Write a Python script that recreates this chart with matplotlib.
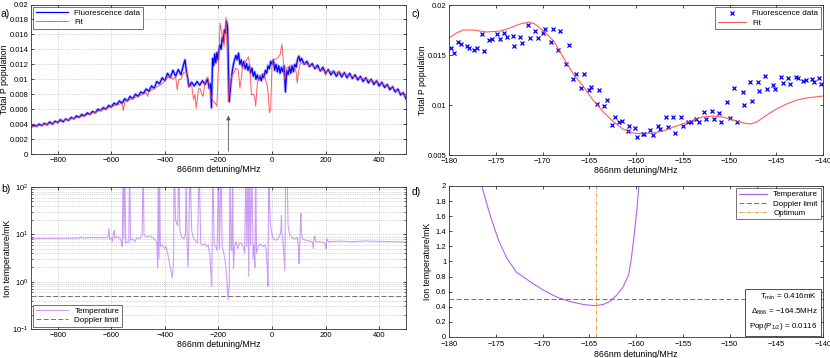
import numpy as np
import matplotlib
matplotlib.use('Agg')
import matplotlib.pyplot as plt

plt.rcParams['font.family'] = ['Liberation Sans', 'DejaVu Sans']
plt.rcParams['mathtext.fontset'] = 'custom'
plt.rcParams['mathtext.rm'] = 'Liberation Sans'

# --------------------------
# data: panel a (full scan)
# --------------------------
scan_x = [-900, -890, -880, -870, -860, -850, -840, -830, -820, -810, -800, -790, -780, -770, -760,
          -750, -740, -730, -720, -710, -700, -690, -680, -670, -660, -650, -640, -630, -620, -610,
          -600, -590, -580, -570, -560, -550, -540, -530, -520, -510, -500, -490, -480, -470, -460,
          -450, -440, -430, -420, -410, -400, -390, -380, -370, -360, -350, -340, -330, -325, -320,
          -315, -310, -300, -290, -280, -270, -260, -250, -240, -235, -230, -226, -222, -218, -214,
          -210, -206, -202, -198, -194, -190, -186, -182, -178, -174, -170, -166, -163, -160, -156,
          -152, -148, -144, -140, -135, -130, -125, -120, -115, -110, -105, -100, -95, -90, -85,
          -80, -75, -70, -65, -60, -55, -50, -45, -40, -35, -30, -25, -20, -15, -10,
          -5, 0, 5, 10, 15, 20, 25, 30, 35, 40, 45, 50, 55, 60, 65,
          70, 75, 80, 85, 90, 95, 100, 105, 110, 120, 130, 140, 150, 160, 170,
          180, 190, 200, 210, 220, 230, 240, 250, 260, 270, 280, 290, 300, 310, 320,
          330, 340, 350, 360, 370, 380, 390, 400, 410, 420, 430, 440, 450, 460, 470,
          480, 490, 500]
scan_data = [.0036, .0039, .0037, .0040, .0038, .0041, .0039, .0043, .0040, .0044, .0042, .0046, .0043, .0047, .0045,
             .0049, .0047, .0051, .0049, .0053, .0051, .0055, .0053, .0057, .0055, .0060, .0058, .0062, .0060, .0065,
             .0063, .0068, .0066, .0071, .0068, .0074, .0071, .0077, .0074, .0080, .0077, .0083, .0081, .0087, .0084,
             .0091, .0088, .0097, .0094, .0102, .0098, .0108, .0102, .0112, .0104, .0113, .0106, .0120, .0126, .0112,
             .0102, .0090, .0096, .0091, .0097, .0092, .0098, .0093, .0100, .0088, .0094, .0062, .0128, .0118, .0134,
             .0122, .0136, .0126, .0140, .0146, .0140, .0156, .0150, .0166, .0162, .0178, .0170, .0120, .0070, .0085,
             .0100, .0112, .0120, .0126, .0132, .0126, .0135, .0120, .0126, .0116, .0124, .0114, .0121, .0112, .0118,
             .0108, .0115, .0104, .0110, .0100, .0106, .0099, .0104, .0098, .0106, .0102, .0112, .0108, .0118, .0114,
             .0124, .0120, .0126, .0112, .0120, .0110, .0118, .0108, .0116, .0110, .0118, .0083, .0112, .0106, .0116,
             .0108, .0118, .0110, .0120, .0116, .0126, .0131, .0124, .0128, .0120, .0124, .0117, .0121, .0114, .0119,
             .0111, .0116, .0108, .0113, .0106, .0111, .0104, .0110, .0103, .0109, .0102, .0108, .0101, .0106, .0099,
             .0104, .0097, .0102, .0095, .0100, .0093, .0098, .0091, .0096, .0089, .0093, .0086, .0090, .0083, .0087,
             .0079, .0082, .0074]

fit_x = [-900, -800, -700, -600, -560, -555, -550, -500, -470, -465, -460, -430, -410, -400, -390,
         -380, -370, -360, -354, -348, -340, -330, -320, -312, -300, -293, -288, -283, -275, -269,
         -262, -257, -250, -240, -235, -230, -222, -212, -206, -200, -194, -188, -179, -172, -168,
         -163, -157, -150, -140, -135, -126, -120, -115, -110, -96, -88, -83, -77, -70, -65,
         -61, -55, -45, -33, -25, -19, -14, -10, -5, 0, 6, 20, 30, 37, 42,
         46, 50, 55, 70, 80, 90, 94, 100, 106, 120, 150, 180, 195, 200, 205,
         250, 300, 350, 400, 450, 480, 500]
fit_y = [.0036, .0043, .0051, .0063, .0068, .0058, .0070, .0077, .0082, .0077, .0083, .0090, .0094, .0098, .0102,
         .0104, .0100, .0104, .0086, .0100, .0100, .0109, .0110, .0090, .0092, .0073, .0080, .0061, .0086, .0088,
         .0080, .0077, .0098, .0103, .0095, .0081, .0072, .0068, .0064, .0117, .0175, .0163, .0144, .0183, .0150,
         .0072, .0090, .0105, .0110, .0115, .0112, .0088, .0100, .0117, .0125, .0130, .0117, .0079, .0080, .0077,
         .0064, .0095, .0105, .0108, .0100, .0094, .0080, .0055, .0060, .0120, .0126, .0128, .0133, .0147, .0125,
         .0100, .0105, .0115, .0119, .0118, .0110, .0095, .0112, .0122, .0121, .0118, .0113, .0111, .0105, .0111,
         .0109, .0104, .0100, .0095, .0088, .0082, .0077]

arrow_x = -163

# --------------------------
# data: panel b (temperature over full scan)
# --------------------------
temp_x = [-900, -800, -720, -715, -710, -650, -620, -612, -609, -606, -600, -596, -592, -589, -586,
          -580, -570, -562, -559, -556, -553, -550, -546, -540, -535, -532, -528, -520, -512, -505,
          -495, -485, -481, -478, -470, -455, -445, -435, -430, -427, -425, -422, -420, -417, -410,
          -402, -395, -388, -380, -372, -368, -365, -360, -352, -348, -344, -338, -330, -323, -320,
          -317, -314, -311, -306, -300, -292, -283, -278, -272, -266, -258, -250, -243, -238, -232,
          -228, -225, -221, -216, -210, -205, -200, -196, -190, -186, -180, -174, -168, -164, -160,
          -157, -153, -150, -147, -144, -140, -134, -128, -122, -115, -108, -102, -98, -94, -90,
          -87, -84, -80, -75, -71, -67, -64, -61, -58, -52, -45, -40, -33, -27, -22,
          -18, -15, -12, -9, -5, 0, 5, 15, 25, 30, 33, 35, 37, 40, 44,
          48, 51, 56, 60, 66, 75, 85, 95, 99, 101, 104, 106, 108, 110, 115,
          125, 140, 150, 154, 157, 160, 163, 175, 190, 200, 202, 204, 206, 210, 250,
          300, 355, 360, 400, 450, 500]
temp_y = [8.2, 8.2, 8.3, 8.9, 8.4, 8.5, 8.4, 9.0, 13.5, 8.0, 8.4, 7.0, 10.5, 12.0, 8.2,
          9.0, 8.5, 7.0, 5.5, 300, 8.0, 300, 6.5, 7.0, 6.8, 300, 7.5, 8.0, 7.0, 8.5,
          8.0, 9.5, 300, 10.0, 9.0, 9.2, 8.5, 7.5, 6.5, 2.0, 300, 3.0, 300, 5.5, 6.0,
          5.0, 5.5, 3.5, 2.0, 1.2, 2.5, 300, 20, 15, 300, 12, 9, 8, 10, 300,
          6, 2.0, 6, 300, 12, 8, 7, 6.5, 300, 6.2, 6, 6.3, 5.5, 6, 3.5,
          1.5, 0.8, 300, 6, 5.5, 4.5, 300, 5.0, 300, 5.5, 4.0, 2.5, 1.0, 0.42, 0.8,
          300, 5.0, 4.5, 300, 1.9, 5.5, 7.0, 5.0, 6.5, 6.5, 5.5, 4.0, 300, 5.5, 300,
          1.3, 300, 6, 300, 3.0, 6, 2.0, 300, 4, 5.5, 6.2, 6, 5.5, 6, 5.0,
          2.0, 0.8, 300, 40, 15, 10, 8.0, 7.5, 8.5, 10, 12, 25, 10, 8, 4,
          1.7, 300, 300, 15, 10, 8.5, 8.0, 8.5, 5, 2.4, 8, 18, 28, 10, 8,
          7.5, 7.2, 7.0, 5.0, 8.5, 9.2, 7.0, 7.0, 6.8, 6.0, 5.0, 7.5, 8.0, 7.0, 7.2,
          7.0, 7.3, 7.2, 7.1, 7.0, 6.9]
doppler_limit = 0.5

# --------------------------
# data: panel c (zoomed scan)
# --------------------------
zoom_x = [-179.8, -179.5, -179.0, -178.7, -178.1, -177.9, -177.3, -177.0, -176.5, -176.3, -175.7, -175.4,
          -174.9, -174.6, -174.1, -173.8, -173.2, -173.0, -172.4, -172.2, -171.6, -171.3, -170.8, -170.5,
          -170.0, -169.7, -169.1, -168.9, -168.3, -168.1, -167.5, -167.2, -166.7, -166.4, -165.9, -165.6,
          -165.0, -164.8, -164.2, -164.0, -163.4, -163.1, -162.6, -162.3, -161.8, -161.5, -160.9, -160.7,
          -160.1, -159.9, -159.3, -159.1, -158.5, -158.2, -157.7, -157.4, -156.8, -156.6, -156.0, -155.8,
          -155.2, -155.0, -154.4, -154.1, -153.6, -153.3, -152.7, -152.5, -151.9, -151.7, -151.1, -150.9,
          -150.3, -150.0, -149.5, -149.2, -148.6, -148.4, -147.8, -147.6, -147.0, -146.8, -146.2, -146.0,
          -145.4, -145.1, -144.5, -144.3, -143.7, -143.5, -142.9, -142.7, -142.1, -141.8, -141.2, -141.0,
          -140.4, -140.2]
zoom_data = [.01573, .0152, .0163, .0161, .0159, .0157, .0155, .0157, .0171, .0154, .0165, .0166,
             .0171, .0166, .0172, .0168, .0169, .0159, .0168, .0162, .0180, .0167, .0174, .0167,
             .0172, .0176, .0163, .0176, .0155, .0174, .0141, .0160, .0126, .0131, .0117, .0131,
             .0115, .0118, .0101, .0115, .0099, .0105, .0080, .0088, .0083, .0084, .0074, .0079,
             .0077, .0068, .0071, .0071, .0075, .0070, .0079, .0076, .0088, .0078, .0088, .0072,
             .0088, .0079, .0083, .0083, .0086, .0083, .0093, .0086, .0094, .0086, .0092, .0083,
             .0103, .0087, .0117, .0083, .0113, .0100, .0123, .0104, .0123, .0114, .0129, .0116,
             .0120, .0116, .0128, .0122, .0127, .0121, .0128, .0127, .0124, .0125, .0126, .0123,
             .0127, .0121]

zoom_fit_x = [-180, -179.2, -178.5, -177.4, -176.0, -174.5, -173.5, -172.4, -171.5, -170.8, -169.9, -168.8,
              -167.8, -166.7, -165.6, -164.6, -163.5, -162.4, -161.4, -160.3, -159.2, -158.2, -157.1, -156.0,
              -155.0, -153.9, -152.9, -151.8, -150.7, -149.6, -148.5, -147.8, -147.1, -146.0, -145.0, -143.9,
              -142.8, -141.8, -140]
zoom_fit_y = [.0167, .0172, .0175, .0175, .0173, .0174, .0177, .0181, .0183, .0181, .0174, .0164,
              .0148, .0131, .0118, .0105, .0093, .0083, .0076, .0072, .0071, .0072, .0074, .0078,
              .0081, .0085, .0088, .0089, .0088, .0085, .0082, .0081, .0083, .0090, .0096, .0101,
              .0105, .0107, .0109]

# --------------------------
# data: panel d (temperature, zoomed)
# --------------------------
tz_x = [-176.5, -175.6, -174.7, -173.8, -172.8, -171.3, -169.9, -168.5, -167.1, -165.6, -164.4, -163.5,
        -162.8, -162.1, -161.4, -160.8, -160.5, -160.2, -159.9, -159.7]
tz_y = [2.0, 1.61, 1.28, 1.04, 0.86, 0.73, 0.62, 0.53, 0.47, 0.43, 0.415, 0.43,
        0.47, 0.55, 0.66, 0.82, 1.04, 1.35, 1.70, 2.0]
tz2_x = [-147.3, -147.0, -146.8]
tz2_y = [2.5, 1.97, 2.5]
optimum = -164.3
info_text = ('$\\mathrm{T_{min}}$ = 0.416mK\n$\\mathrm{\\Delta_{866}}$ = \u2212164.5MHz\n'
             'Pop($\\mathrm{P_{1/2}}$) = 0.0116')

# --------------------------
# figure
# --------------------------
blue = '#0000ff'
red = '#ff4040'
purple = '#b060f0'
grey = '#707070'
gold = '#d8a040'
tick_fs = 5.5
lab_fs = 6.3
leg_fs = 5.8

fig = plt.figure(figsize=(8.3, 3.58), dpi=100)
ax_a = fig.add_axes([0.0373, 0.5698, 0.4518, 0.4176])
ax_b = fig.add_axes([0.0373, 0.0810, 0.4518, 0.3966])
ax_c = fig.add_axes([0.5410, 0.5670, 0.4506, 0.4190])
ax_d = fig.add_axes([0.5410, 0.0587, 0.4506, 0.4218])

for ax in (ax_a, ax_b, ax_c, ax_d):
    ax.tick_params(direction='in', top=True, right=True, labelsize=tick_fs, length=2.5, width=0.5, pad=2)
    ax.tick_params(which='minor', direction='in', top=True, right=True, length=1.5, width=0.4)
    for s in ax.spines.values():
        s.set_linewidth(0.6)
        s.set_color('#333333')
    ax.set_xlabel('866nm detuning/MHz', fontsize=lab_fs, labelpad=1)

# panel a
ax_a.plot(scan_x, scan_data, color='#8080ff', lw=2.2, alpha=0.5)
ax_a.plot(scan_x, scan_data, color=blue, lw=0.9, label='Fluorescence data')
ax_a.plot(fit_x, fit_y, color=red, lw=0.7, alpha=0.85, label='Fit')
ax_a.annotate('', xy=(arrow_x, 0.0055), xytext=(arrow_x, 0),
              arrowprops=dict(arrowstyle='-|>', color='#555555', lw=0.6, mutation_scale=6))
ax_a.set_xlim(-900, 500)
ax_a.set_ylim(0, 0.02)
ax_a.set_xticks([-800, -600, -400, -200, 0, 200, 400])
ax_a.set_yticks(np.arange(0, 0.0201, 0.002))
ax_a.set_yticklabels(['0', '0.002', '0.004', '0.006', '0.008', '0.01', '0.012', '0.014', '0.016', '0.018', '0.02'])
ax_a.grid(True, ls=':', lw=0.5, color='#b0b0b0')
ax_a.set_ylabel('Total P population', fontsize=lab_fs)
ax_a.yaxis.set_label_coords(-0.058, 0.5)
ax_a.legend(loc='upper left', fontsize=leg_fs, fancybox=False, edgecolor='#333333',
            borderpad=0.3, handlelength=4, labelspacing=0.2, borderaxespad=0.3).get_frame().set_linewidth(0.6)

# panel b
ax_b.plot(temp_x, temp_y, color=purple, lw=0.8, alpha=0.6, label='Temperature')
ax_b.axhline(doppler_limit, color=grey, lw=0.7, dashes=(5, 2.5), label='Doppler limit')
ax_b.set_yscale('log')
ax_b.set_xlim(-900, 500)
ax_b.set_ylim(0.1, 100)
ax_b.set_xticks([-800, -600, -400, -200, 0, 200, 400])
ax_b.grid(True, which='both', ls=':', lw=0.5, color='#b0b0b0')
ax_b.set_ylabel('Ion temperature/mK', fontsize=lab_fs)
ax_b.yaxis.set_label_coords(-0.050, 0.5)
ax_b.legend(loc='lower left', fontsize=leg_fs, fancybox=False, edgecolor='#333333',
            borderpad=0.3, handlelength=4, labelspacing=0.2, borderaxespad=0.3).get_frame().set_linewidth(0.6)

# panel c
ax_c.plot(zoom_x, zoom_data, ls='none', marker='x', ms=2.8, mew=0.9, color=blue, label='Fluorescence data')
ax_c.plot(zoom_fit_x, zoom_fit_y, color=red, lw=0.8, alpha=0.85, label='Fit')
ax_c.set_xlim(-180, -140)
ax_c.set_ylim(0.005, 0.02)
ax_c.set_xticks(np.arange(-180, -139, 5))
ax_c.set_yticks([0.005, 0.01, 0.015, 0.02])
ax_c.set_yticklabels(['0.005', '0.01', '0.015', '0.02'])
ax_c.set_ylabel('Total P population', fontsize=lab_fs)
ax_c.yaxis.set_label_coords(-0.059, 0.5)
ax_c.legend(loc='upper right', fontsize=leg_fs, fancybox=False, edgecolor='#333333',
            borderpad=0.3, handlelength=3.5, labelspacing=0.2, borderaxespad=0.3).get_frame().set_linewidth(0.6)

# panel d
ax_d.plot(tz_x, tz_y, color=purple, lw=0.8, label='Temperature')
ax_d.plot(tz2_x, tz2_y, color=purple, lw=0.8)
ax_d.axhline(doppler_limit, color=grey, lw=0.7, dashes=(5, 2.5), label='Doppler limit')
ax_d.axvline(optimum, color=gold, lw=0.7, dashes=(4, 1.5, 1, 1.5), label='Optimum')
ax_d.set_xlim(-180, -140)
ax_d.set_ylim(0, 2)
ax_d.set_xticks(np.arange(-180, -139, 5))
ax_d.set_yticks(np.arange(0, 2.01, 0.2))
ax_d.set_yticklabels(['0', '0.2', '0.4', '0.6', '0.8', '1', '1.2', '1.4', '1.6', '1.8', '2'])
ax_d.tick_params(axis='x', pad=3)
ax_d.set_ylabel('Ion temperature/mK', fontsize=lab_fs)
ax_d.yaxis.set_label_coords(-0.045, 0.5)
ax_d.legend(loc='upper right', fontsize=leg_fs, fancybox=False, edgecolor='#333333',
            borderpad=0.3, handlelength=3.5, labelspacing=0.2, borderaxespad=0.3).get_frame().set_linewidth(0.6)
ax_d.text(0.985, 0.035, info_text, transform=ax_d.transAxes, ha='right', va='bottom', fontsize=leg_fs,
          linespacing=1.6, bbox=dict(boxstyle='square,pad=0.5', fc='white', ec='#333333', lw=0.6))

# panel letters
fig.text(0.001, 0.975, 'a)', fontsize=7.5, va='top')
fig.text(0.001, 0.485, 'b)', fontsize=7.5, va='top')
fig.text(0.496, 0.975, 'c)', fontsize=7.5, va='top')
fig.text(0.496, 0.478, 'd)', fontsize=7.5, va='top')

fig.savefig('out.png', dpi=100)
